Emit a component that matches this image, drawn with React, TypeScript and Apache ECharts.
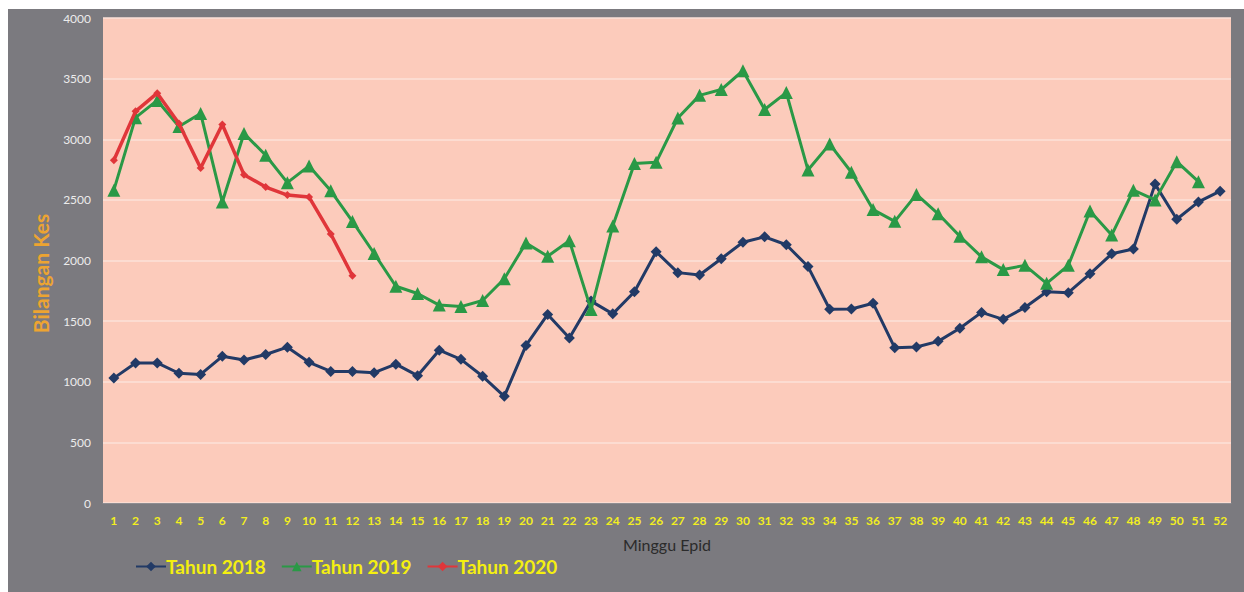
import React, { useEffect, useRef } from "react";
import * as echarts from "echarts";

const weeks: string[] = Array.from({ length: 52 }, (_, i) => String(i + 1));

const tahun2018: number[] = [
  1030, 1155, 1155, 1070, 1060, 1210, 1180, 1225, 1285, 1160,
  1085, 1085, 1075, 1145, 1050, 1260, 1185, 1045, 880, 1300,
  1555, 1360, 1665, 1560, 1742, 2072, 1900, 1880, 2015, 2150,
  2195, 2130, 1950, 1598, 1600, 1648, 1280, 1286, 1333, 1441,
  1572, 1515, 1613, 1742, 1735, 1890, 2055, 2095, 2630, 2340,
  2483, 2572,
];

const tahun2019: number[] = [
  2580, 3178, 3320, 3105, 3213, 2482, 3048, 2868, 2642, 2780,
  2575, 2322, 2058, 1788, 1728, 1632, 1620, 1670, 1850, 2145,
  2035, 2163, 1595, 2285, 2800, 2810, 3175, 3362, 3410, 3565,
  3245, 3385, 2746, 2960, 2728, 2420, 2323, 2545, 2385, 2200,
  2030, 1925, 1960, 1812, 1960, 2408, 2210, 2580, 2500, 2815,
  2650,
];

const tahun2020: number[] = [
  2827, 3230, 3380, 3130, 2763, 3122, 2708, 2606, 2540, 2523,
  2219, 1874,
];

const yTicks = { min: 0, max: 4000, interval: 500 };

export default function App() {
  const ref = useRef<HTMLDivElement>(null);

  useEffect(() => {
    if (!ref.current) return;
    const chart = echarts.init(ref.current, null, { renderer: "svg" });
    chart.setOption({
      animation: false,
      backgroundColor: "#7b7a7f",
      grid: {
        left: 95,
        top: 9,
        right: 13,
        bottom: 89,
        show: true,
        backgroundColor: "#fccbbb",
        borderWidth: 0,
      },
      legend: {
        left: 122,
        top: 543,
        itemWidth: 30,
        itemHeight: 12,
        itemGap: 15,
        textStyle: {
          color: "#f4ef10",
          fontSize: 19,
          fontWeight: "bold",
          fontFamily: "Lato",
          padding: [0, 0, 0, -5],
        },
        data: ["Tahun 2018", "Tahun 2019", "Tahun 2020"],
      },
      xAxis: {
        type: "category",
        data: weeks,
        boundaryGap: true,
        name: "Minggu Epid",
        nameLocation: "middle",
        nameGap: 33,
        nameTextStyle: { color: "#2b2b2b", fontSize: 16, fontFamily: "Lato" },
        axisLine: { show: true, lineStyle: { color: "#8e8d92", width: 1 } },
        axisTick: { show: false },
        axisLabel: {
          color: "#f2ee20",
          fontSize: 12,
          fontWeight: "bold",
          fontFamily: "Lato",
          margin: 11,
          interval: 0,
        },
        splitLine: { show: false },
      },
      yAxis: {
        type: "value",
        min: yTicks.min,
        max: yTicks.max,
        interval: yTicks.interval,
        name: "Bilangan Kes",
        nameLocation: "middle",
        nameGap: 52,
        nameRotate: 90,
        nameTextStyle: {
          color: "#eda431",
          fontSize: 21,
          fontWeight: "bold",
          fontFamily: "Lato",
          padding: [0, 26, 0, 0],
        },
        axisLine: { show: false },
        axisTick: { show: false },
        axisLabel: {
          color: "#ececec",
          fontSize: 12,
          fontFamily: "Lato",
          margin: 12,
          formatter: (v: number) => String(v),
        },
        splitLine: { show: true, lineStyle: { color: "#fde2d8", width: 1.5 } },
      },
      series: [
        {
          name: "Tahun 2018",
          type: "line",
          data: tahun2018,
          symbol: "diamond",
          symbolSize: 11,
          lineStyle: { color: "#223a66", width: 3 },
          itemStyle: { color: "#223a66" },
          z: 2,
        },
        {
          name: "Tahun 2019",
          type: "line",
          data: tahun2019,
          symbol: "triangle",
          symbolSize: 13,
          lineStyle: { color: "#2a9946", width: 3 },
          itemStyle: { color: "#2a9946" },
          z: 3,
        },
        {
          name: "Tahun 2020",
          type: "line",
          data: tahun2020,
          symbol: "diamond",
          symbolSize: 8,
          lineStyle: { color: "#e0363a", width: 3.5 },
          itemStyle: { color: "#e0363a" },
          z: 4,
        },
      ],
    });
    return () => chart.dispose();
  }, []);

  return (
    <div
      ref={ref}
      style={{ position: "absolute", left: 8, top: 9, width: 1236, height: 583 }}
    />
  );
}
